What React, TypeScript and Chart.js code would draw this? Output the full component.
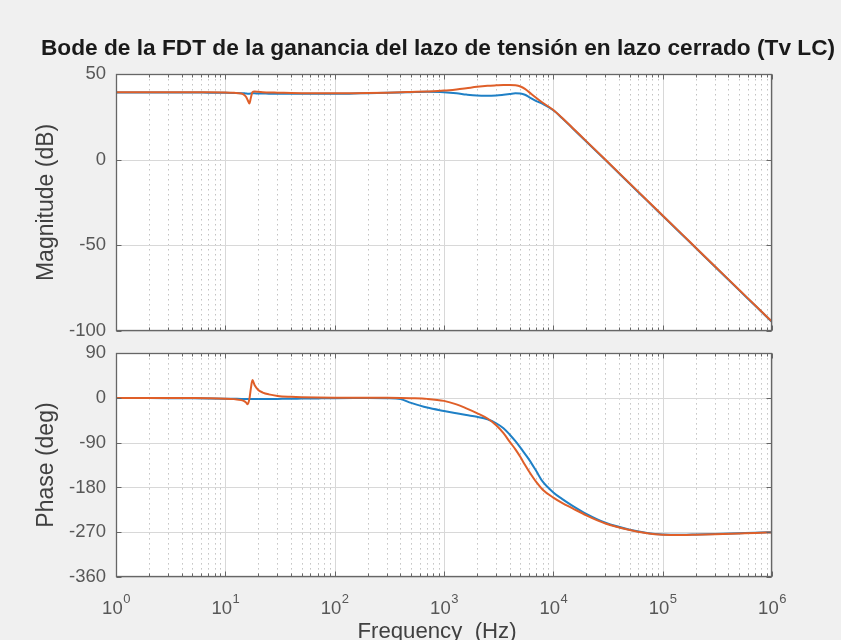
import React, { useEffect, useRef } from 'react';
import { Chart, registerables } from 'chart.js';

Chart.register(...registerables);

// Frequency points (Hz) shared by both curves
const FREQ_HZ = [
  1, 2, 3, 5, 7, 10, 12, 14, 15, 15.5, 16, 16.6, 17.1, 17.7, 18.5, 20, 22, 25, 30, 40,
  50, 70, 100, 150, 200, 300, 400, 500, 700, 1000, 1300, 1600, 2000, 2500, 3000, 3500,
  4000, 4500, 5000, 5500, 6000, 7000, 8000, 10000, 12000, 15000, 20000, 30000, 50000,
  70000, 100000, 150000, 200000, 300000, 500000, 700000, 1000000,
];

// Magnitude (dB)
const MAG_BLUE = [
  39.2, 39.2, 39.2, 39.2, 39.1, 39.0, 38.9, 38.8, 38.7, 38.6, 38.5, 38.5, 38.6, 38.7, 38.7, 38.6, 38.6, 38.5, 38.5, 38.4,
  38.4, 38.4, 38.4, 38.6, 38.8, 39.0, 39.2, 39.4, 39.6, 39.4, 38.8, 38.0, 37.4, 37.3, 37.5, 37.9,
  38.3, 38.7, 38.6, 37.9, 36.5, 34.2, 32.6, 28.8, 24.3, 18.3, 10.6, -0.3, -14.1,
  -23.2, -32.8, -43.7, -51.5, -62.4, -76.2, -85.2, -94.8,
];
const MAG_ORANGE = [
  39.3, 39.3, 39.3, 39.3, 39.3, 39.2, 39.0, 38.6, 37.6, 36.6, 34.8, 32.8, 36.0, 39.4, 39.8, 39.6, 39.4, 39.2, 39.1, 38.9,
  38.8, 38.7, 38.7, 38.8, 38.9, 39.1, 39.3, 39.5, 39.8, 40.3, 41.0, 41.7, 42.5, 43.1, 43.4, 43.6,
  43.6, 43.4, 42.7, 41.3, 39.4, 36.0, 33.2, 29.0, 24.5, 18.5, 10.8, -0.1, -13.9,
  -23.0, -32.6, -43.5, -51.3, -62.2, -76.0, -85.0, -94.6,
];

// Phase (deg)
const PHASE_BLUE = [
  0, -0.3, -0.5, -0.8, -1.1, -1.5, -1.8, -2.0, -2.2, -2.3, -2.4, -2.4, -2.4, -2.4, -2.4, -2.4, -2.3, -2.2, -2.0, -1.7,
  -1.4, -1.0, -0.6, -0.3, -0.2, -0.6, -2.5, -10.0, -19.5, -26.4, -31.0, -34.5, -38.0, -43.0, -51.0, -61.0,
  -74.0, -87.0, -100.0, -112.5, -124.0, -147.5, -168.5, -190.0, -203.0, -217.0, -233.0, -251.0, -265.0,
  -271.0, -274.5, -275.0, -274.5, -273.5, -272.0, -271.0, -270.0,
];
const PHASE_ORANGE = [
  0, -0.1, -0.2, -0.4, -0.7, -1.5, -2.5, -4.5, -7.0, -9.5, -12.8, -2.0, 18.0, 35.8, 26.0, 16.0, 10.7, 7.0, 4.0, 2.2,
  1.4, 0.8, 0.5, 0.4, 0.3, 0.2, -0.2, -0.7, -2.0, -6.0, -13.0, -21.0, -30.5, -41.5, -55.0, -71.0,
  -88.5, -103.5, -119.0, -134.5, -148.0, -169.5, -184.5, -200.5, -211.0, -222.0, -236.0, -252.5, -265.5,
  -271.5, -275.0, -275.5, -275.0, -274.0, -272.5, -271.5, -270.5,
];

// Axis ticks
const DECADE_EXPONENTS = [0, 1, 2, 3, 4, 5, 6];
const MINOR_MULTIPLIERS = [2, 3, 4, 5, 6, 7, 8, 9];
const MAG_TICKS = [-100, -50, 0, 50];
const PHASE_TICKS = [-360, -270, -180, -90, 0, 90];

const TITLE = 'Bode de la FDT de la ganancia del lazo de tensión en lazo cerrado (Tv LC)';
const X_TITLE = 'Frequency  (Hz)';
const FONT = 'Arial, "Liberation Sans", Helvetica, sans-serif';

const BLUE = '#1f80c6';
const ORANGE = '#df5f29';
const TICK_COLOR = '#575757';
const LABEL_COLOR = '#404040';
const BOX_COLOR = '#666666';

const TOP_H = 342;
const BOT_H = 298;

function axesPlugin(yTicks: number[], drawBottomLabels: boolean, drawTitle: boolean) {
  return {
    id: 'bodeAxes',
    beforeDatasetsDraw(chart: any) {
      const { ctx, chartArea: a, scales } = chart;
      const xs = scales.x;
      const ys = scales.y;
      ctx.save();
      ctx.fillStyle = '#ffffff';
      ctx.fillRect(a.left, a.top, a.right - a.left, a.bottom - a.top);
      ctx.lineWidth = 1;
      // minor vertical grid (dotted)
      ctx.strokeStyle = '#c2c2c2';
      ctx.setLineDash([1.5, 3.5]);
      for (const e of DECADE_EXPONENTS.slice(0, -1)) {
        for (const m of MINOR_MULTIPLIERS) {
          const px = Math.round(xs.getPixelForValue(m * Math.pow(10, e))) + 0.5;
          ctx.beginPath();
          ctx.moveTo(px, a.top);
          ctx.lineTo(px, a.bottom);
          ctx.stroke();
        }
      }
      ctx.setLineDash([]);
      // major grid
      ctx.strokeStyle = '#d8d8d8';
      for (const e of DECADE_EXPONENTS) {
        const px = Math.round(xs.getPixelForValue(Math.pow(10, e))) + 0.5;
        ctx.beginPath();
        ctx.moveTo(px, a.top);
        ctx.lineTo(px, a.bottom);
        ctx.stroke();
      }
      for (const v of yTicks) {
        const py = Math.round(ys.getPixelForValue(v)) + 0.5;
        ctx.beginPath();
        ctx.moveTo(a.left, py);
        ctx.lineTo(a.right, py);
        ctx.stroke();
      }
      ctx.restore();
    },
    afterDatasetsDraw(chart: any) {
      const { ctx, chartArea: a, scales } = chart;
      const xs = scales.x;
      const ys = scales.y;
      const L = Math.round(a.left) + 0.5;
      const R = Math.round(a.right) - 0.5;
      const T = Math.round(a.top) + 0.5;
      const B = Math.round(a.bottom) - 0.5;
      ctx.save();
      ctx.strokeStyle = BOX_COLOR;
      ctx.lineWidth = 1.3;
      ctx.strokeRect(L, T, R - L, B - T);
      ctx.lineWidth = 1;
      ctx.beginPath();
      for (const v of yTicks) {
        const py = Math.round(ys.getPixelForValue(v)) + 0.5;
        ctx.moveTo(L, py); ctx.lineTo(L + 5, py);
        ctx.moveTo(R, py); ctx.lineTo(R - 5, py);
      }
      for (const e of DECADE_EXPONENTS) {
        const px = Math.round(xs.getPixelForValue(Math.pow(10, e))) + 0.5;
        ctx.moveTo(px, B); ctx.lineTo(px, B - 5);
        ctx.moveTo(px, T); ctx.lineTo(px, T + 5);
        if (e < 6) {
          for (const m of MINOR_MULTIPLIERS) {
            const qx = Math.round(xs.getPixelForValue(m * Math.pow(10, e))) + 0.5;
            ctx.moveTo(qx, B); ctx.lineTo(qx, B - 3);
            ctx.moveTo(qx, T); ctx.lineTo(qx, T + 3);
          }
        }
      }
      ctx.stroke();
      ctx.restore();
    },
    afterDraw(chart: any) {
      const { ctx, chartArea: a, scales } = chart;
      const xs = scales.x;
      ctx.save();
      if (drawTitle) {
        ctx.fillStyle = '#1a1a1a';
        ctx.font = `bold 22.7px ${FONT}`;
        ctx.textAlign = 'center';
        ctx.textBaseline = 'alphabetic';
        ctx.fillText(TITLE, 438, 55);
      }
      if (drawBottomLabels) {
        ctx.fillStyle = TICK_COLOR;
        ctx.textBaseline = 'alphabetic';
        ctx.textAlign = 'left';
        for (const e of DECADE_EXPONENTS) {
          const px = xs.getPixelForValue(Math.pow(10, e));
          ctx.font = `18.5px ${FONT}`;
          const wb = ctx.measureText('10').width;
          ctx.font = `13px ${FONT}`;
          const we = ctx.measureText(String(e)).width;
          const x0 = px - (wb + we) / 2;
          ctx.font = `18.5px ${FONT}`;
          ctx.fillText('10', x0, a.bottom + 37);
          ctx.font = `13px ${FONT}`;
          ctx.fillText(String(e), x0 + wb + 0.5, a.bottom + 26);
        }
        ctx.fillStyle = LABEL_COLOR;
        ctx.font = `22.2px ${FONT}`;
        ctx.textAlign = 'center';
        ctx.fillText(X_TITLE, 437, a.bottom + 61);
      }
      ctx.restore();
    },
  };
}

function buildConfig(opts: {
  blue: number[];
  orange: number[];
  yMin: number;
  yMax: number;
  yTicks: number[];
  yTitle: string;
  padTop: number;
  xAxisHeight: number;
  bottomLabels: boolean;
  title: boolean;
}): any {
  const toPoints = (vals: number[]) => FREQ_HZ.map((f, i) => ({ x: f, y: vals[i] }));
  return {
    type: 'line',
    data: {
      datasets: [
        {
          label: 'blue',
          data: toPoints(opts.blue),
          borderColor: BLUE,
          borderWidth: 2,
          pointRadius: 0,
          cubicInterpolationMode: 'monotone',
          fill: false,
          order: 2,
        },
        {
          label: 'orange',
          data: toPoints(opts.orange),
          borderColor: ORANGE,
          borderWidth: 2,
          pointRadius: 0,
          cubicInterpolationMode: 'monotone',
          fill: false,
          order: 1,
        },
      ],
    },
    options: {
      animation: false,
      responsive: false,
      devicePixelRatio: 1,
      events: [],
      layout: { padding: { left: 0, right: 69, top: opts.padTop, bottom: 0 } },
      plugins: {
        legend: { display: false },
        tooltip: { enabled: false },
        title: { display: false },
      },
      scales: {
        x: {
          type: 'logarithmic',
          min: 1,
          max: 1e6,
          ticks: { display: false },
          grid: { display: false, drawTicks: false },
          border: { display: false },
          afterFit: (s: any) => { s.height = opts.xAxisHeight; },
        },
        y: {
          type: 'linear',
          min: opts.yMin,
          max: opts.yMax,
          afterBuildTicks: (s: any) => { s.ticks = opts.yTicks.map((v) => ({ value: v })); },
          ticks: {
            color: TICK_COLOR,
            font: { family: FONT, size: 18.5 },
            padding: 0,
            autoSkip: false,
            callback: (v: any) => String(v),
          },
          // invisible tick marks only offset the labels from the frame
          grid: {
            display: true,
            drawOnChartArea: false,
            drawTicks: true,
            tickLength: 10,
            tickColor: 'rgba(0,0,0,0)',
            color: 'rgba(0,0,0,0)',
          },
          border: { display: false },
          title: {
            display: true,
            text: opts.yTitle,
            color: LABEL_COLOR,
            font: { family: FONT, size: 23 },
            padding: { top: 33, bottom: 0 },
          },
          afterFit: (s: any) => { s.width = 116; },
        },
      },
    },
    plugins: [axesPlugin(opts.yTicks, opts.bottomLabels, opts.title)],
  };
}

export default function App() {
  const topRef = useRef<HTMLCanvasElement>(null);
  const botRef = useRef<HTMLCanvasElement>(null);

  useEffect(() => {
    const magChart = new Chart(
      topRef.current as HTMLCanvasElement,
      buildConfig({
        blue: MAG_BLUE,
        orange: MAG_ORANGE,
        yMin: -100,
        yMax: 50,
        yTicks: MAG_TICKS,
        yTitle: 'Magnitude (dB)',
        padTop: 74,
        xAxisHeight: TOP_H - 331,
        bottomLabels: false,
        title: true,
      })
    );
    const phaseChart = new Chart(
      botRef.current as HTMLCanvasElement,
      buildConfig({
        blue: PHASE_BLUE,
        orange: PHASE_ORANGE,
        yMin: -360,
        yMax: 90,
        yTicks: PHASE_TICKS,
        yTitle: 'Phase (deg)',
        padTop: 353 - TOP_H,
        xAxisHeight: BOT_H - (577 - TOP_H),
        bottomLabels: true,
        title: false,
      })
    );
    return () => {
      magChart.destroy();
      phaseChart.destroy();
    };
  }, []);

  return (
    <div
      style={{
        position: 'absolute',
        left: 0,
        top: 0,
        width: 841,
        height: 640,
        background: '#f0f0f0',
        overflow: 'hidden',
      }}
    >
      <canvas
        ref={topRef}
        width={841}
        height={TOP_H}
        style={{ position: 'absolute', left: 0, top: 0, width: 841, height: TOP_H }}
      />
      <canvas
        ref={botRef}
        width={841}
        height={BOT_H}
        style={{ position: 'absolute', left: 0, top: TOP_H, width: 841, height: BOT_H }}
      />
    </div>
  );
}
